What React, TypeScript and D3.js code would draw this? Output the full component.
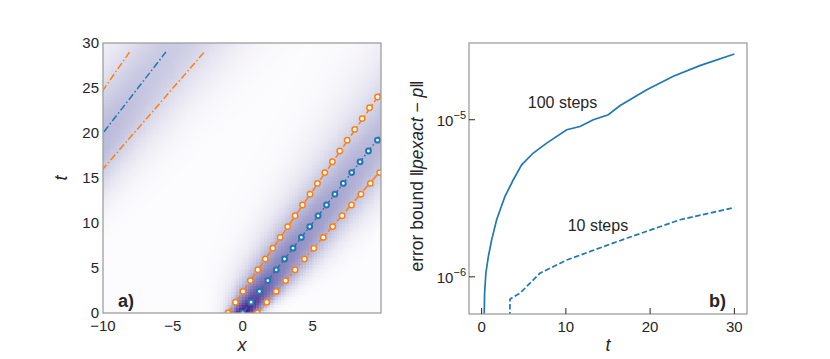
import React from "react";
import * as d3 from "d3";

// ---- panel a) density band at a few times ----
const bandT = [0, 1, 3, 5, 10, 15, 20, 25, 30];
const bandCenter = [0, 0.5, 1.5, 2.5, 5, 7.5, 10, 12.5, 15];
const bandSigma = [0.8, 1.0, 1.4, 1.7, 2.15, 2.5, 2.8, 3.1, 3.4];
const bandPeak = [0.95, 0.85, 0.7, 0.6, 0.5, 0.43, 0.38, 0.34, 0.31];

// trajectories (x unwrapped, periodic box of width 20)
const lineT = [0, 29];
const blueLineX = [0, 14.5];
const orangeLeftX = [-1.05, 11.9];
const orangeRightX = [1.05, 17.25];

const markerT = [0, 1.2, 2.4, 3.6, 4.8, 6, 7.2, 8.4, 9.6, 10.8, 12, 13.2, 14.4, 15.6, 16.8, 18, 19.2, 20.4, 21.6, 22.8, 24];
const blueMarkX = [0, 0.6, 1.2, 1.8, 2.4, 3.0, 3.6, 4.2, 4.8, 5.4, 6.0, 6.6, 7.2, 7.8, 8.4, 9.0, 9.65];
const orangeLeftMarkX = [-1.05, -0.52, 0.02, 0.55, 1.08, 1.62, 2.15, 2.68, 3.22, 3.75, 4.28, 4.82, 5.35, 5.88, 6.42, 6.95, 7.48, 8.02, 8.55, 9.08, 9.65];
const orangeRightMarkX = [1.05, 1.72, 2.4, 3.07, 3.75, 4.42, 5.09, 5.77, 6.44, 7.12, 7.79, 8.46, 9.14, 9.81];

const xTicksA = [-10, -5, 0, 5];
const yTicksA = [0, 5, 10, 15, 20, 25, 30];

// ---- panel b) error bound ----
const steps100T = [0.3, 0.35, 0.5, 0.8, 1.19, 1.78, 2.2, 2.77, 3.76, 4.75, 6.13, 7.72, 10.1, 11.67, 13.25, 15.04, 16.4, 19.6, 22.76, 25.9, 30];
const steps100E = [5.5e-7, 7.87e-7, 1.054e-6, 1.35e-6, 1.72e-6, 2.31e-6, 2.67e-6, 3.25e-6, 4.15e-6, 5.16e-6, 6.14e-6, 7.1e-6, 8.63e-6, 9.06e-6, 1.0e-5, 1.076e-5, 1.227e-5, 1.55e-5, 1.89e-5, 2.21e-5, 2.62e-5];
const steps10T = [3.36, 3.36, 4.55, 6.92, 10.1, 15.6, 19.6, 23.55, 30];
const steps10E = [5.5e-7, 7.21e-7, 7.87e-7, 1.054e-6, 1.28e-6, 1.64e-6, 1.95e-6, 2.31e-6, 2.76e-6];

const xTicksB = [0, 10, 20, 30];
const yTicksB = [{ v: 1e-6, e: "−6" }, { v: 1e-5, e: "−5" }];

const BLUE = "#1f77b4";
const ORANGE = "#ff7f0e";
const SPINE = "#9e9e9e";
const TEXT = "#262626";
const FONT = "'Liberation Sans', Arial, sans-serif";

const minus = (v: number) => String(v).replace("-", "−");

export default function App() {
  // panel a geometry
  const ax = { l: 103, r: 381, t: 43, b: 313 };
  const xA = d3.scaleLinear().domain([-10, 9.9]).range([ax.l, ax.r]);
  const yA = d3.scaleLinear().domain([0, 30]).range([ax.b, ax.t]);

  const cen = d3.scaleLinear().domain(bandT).range(bandCenter);
  const sig = d3.scaleLinear().domain(bandT).range(bandSigma);
  const peak = d3.scaleLinear().domain(bandT).range(bandPeak);

  const nx = 100, ny = 100;
  const cells: { x: number; y: number; w: number; h: number; c: string }[] = [];
  for (let j = 0; j < ny; j++) {
    const t0 = (30 * j) / ny, t1 = (30 * (j + 1)) / ny;
    const tc = (t0 + t1) / 2;
    const c = cen(tc), s = sig(tc), p = peak(tc);
    for (let i = 0; i < nx; i++) {
      const xa = -10 + (19.9 * i) / nx, xb = -10 + (19.9 * (i + 1)) / nx;
      const xc = (xa + xb) / 2;
      const d = ((((xc - c + 10) % 20) + 20) % 20) - 10;
      const v = p * Math.exp(-(d * d) / (2 * s * s));
      cells.push({ x: xA(xa), y: yA(t1), w: xA(xb) - xA(xa) + 0.4, h: yA(t0) - yA(t1) + 0.4, c: d3.interpolatePurples(v) });
    }
  }

  const lineA = d3.line<[number, number]>().x((d) => xA(d[0])).y((d) => yA(d[1]));
  const traj = (xs: number[], shift: number) =>
    lineA(lineT.map((t, i) => [xs[i] + shift, t] as [number, number])) || "";

  const dashDot = "7,2.5,1.5,2.5";

  // panel b geometry
  const bx = { l: 469, r: 747, t: 43, b: 314 };
  const xB = d3.scaleLinear().domain([-1.5, 31.5]).range([bx.l, bx.r]);
  const yB = d3.scaleLog().domain([5.8e-7, 3.08e-5]).range([bx.b, bx.t]);
  const pathB = (ts: number[], es: number[]) =>
    d3.line<number>().x((d) => xB(d)).y((_, i) => yB(es[i]))(ts) || "";

  const markers = (xs: number[], color: string, r: number, sw: number) =>
    xs.map((x, i) => (
      <circle key={color + i} cx={xA(x)} cy={yA(markerT[i])} r={r} fill="white" stroke={color} strokeWidth={sw} />
    ));

  return (
    <svg width={830} height={359} style={{ position: "absolute", left: 0, top: 0, background: "white" }} fontFamily={FONT}>
      <defs>
        <clipPath id="clipA"><rect x={ax.l} y={ax.t} width={ax.r - ax.l} height={ax.b - ax.t} /></clipPath>
        <clipPath id="clipB"><rect x={bx.l} y={bx.t} width={bx.r - bx.l} height={bx.b - bx.t} /></clipPath>
      </defs>

      {/* ---------- panel a ---------- */}
      <g clipPath="url(#clipA)">
        <g shapeRendering="crispEdges">
          {cells.map((c, i) => (
            <rect key={i} x={c.x} y={c.y} width={c.w} height={c.h} fill={c.c} />
          ))}
        </g>
        {[0, -20].map((s) => (
          <g key={s} fill="none" strokeWidth={1.5} strokeDasharray={dashDot}>
            <path d={traj(orangeLeftX, s)} stroke={ORANGE} />
            <path d={traj(blueLineX, s)} stroke={BLUE} />
            <path d={traj(orangeRightX, s)} stroke={ORANGE} />
          </g>
        ))}
        {markers(orangeLeftMarkX, ORANGE, 2.7, 1.5)}
        {markers(orangeRightMarkX, ORANGE, 2.7, 1.5)}
        {markers(blueMarkX, BLUE, 2.4, 2.0)}
      </g>
      <rect x={ax.l} y={ax.t} width={ax.r - ax.l} height={ax.b - ax.t} fill="none" stroke={SPINE} strokeWidth={1.3} />
      <g fontSize={15} fill={TEXT}>
        {xTicksA.map((v) => (
          <text key={v} x={xA(v)} y={ax.b + 18} textAnchor="middle">{minus(v)}</text>
        ))}
        {yTicksA.map((v) => (
          <text key={v} x={ax.l - 4} y={yA(v) + 5} textAnchor="end">{v}</text>
        ))}
      </g>
      <text x={(ax.l + ax.r) / 2} y={351} textAnchor="middle" fontSize={18} fontStyle="italic" fill={TEXT}>x</text>
      <text transform={`translate(67,${(ax.t + ax.b) / 2}) rotate(-90)`} textAnchor="middle" fontSize={18} fontStyle="italic" fill={TEXT}>t</text>
      <text x={118} y={307} fontSize={18} fontWeight="bold" fill={TEXT}>a)</text>

      {/* ---------- panel b ---------- */}
      <g clipPath="url(#clipB)" fill="none" stroke={BLUE} strokeWidth={1.7}>
        <path d={pathB(steps100T, steps100E)} />
        <path d={pathB(steps10T, steps10E)} strokeDasharray="5.5,2.5" />
      </g>
      <rect x={bx.l} y={bx.t} width={bx.r - bx.l} height={bx.b - bx.t} fill="none" stroke={SPINE} strokeWidth={1.3} />
      <g stroke={TEXT} strokeWidth={1}>
        {xTicksB.map((v) => (
          <line key={v} x1={xB(v)} x2={xB(v)} y1={bx.b} y2={bx.b - 6} />
        ))}
        {yTicksB.map((d) => (
          <line key={d.e} x1={bx.l} x2={bx.l + 6} y1={yB(d.v)} y2={yB(d.v)} />
        ))}
      </g>
      <g fontSize={15} fill={TEXT}>
        {xTicksB.map((v) => (
          <text key={v} x={xB(v)} y={bx.b + 18} textAnchor="middle">{v}</text>
        ))}
        {yTicksB.map((d) => (
          <text key={d.e} x={bx.l - 3} y={yB(d.v) + 6} textAnchor="end">
            10<tspan dy={-7} fontSize={11}>{d.e}</tspan>
          </text>
        ))}
      </g>
      <text x={(bx.l + bx.r) / 2} y={351} textAnchor="middle" fontSize={18} fontStyle="italic" fill={TEXT}>t</text>
      <text transform={`translate(423,176) rotate(-90)`} textAnchor="middle" fontSize={17.5} fill={TEXT}>
        error bound ‖<tspan fontStyle="italic">pexact</tspan> − <tspan fontStyle="italic">p</tspan>‖
      </text>
      <text x={xB(9.6)} y={yB(1.0e-5) - 12} textAnchor="middle" fontSize={16} fill={TEXT}>100 steps</text>
      <text x={xB(13.8)} y={yB(2.1e-6) + 5} textAnchor="middle" fontSize={16} fill={TEXT}>10 steps</text>
      <text x={709} y={307} fontSize={18} fontWeight="bold" fill={TEXT}>b)</text>
    </svg>
  );
}
